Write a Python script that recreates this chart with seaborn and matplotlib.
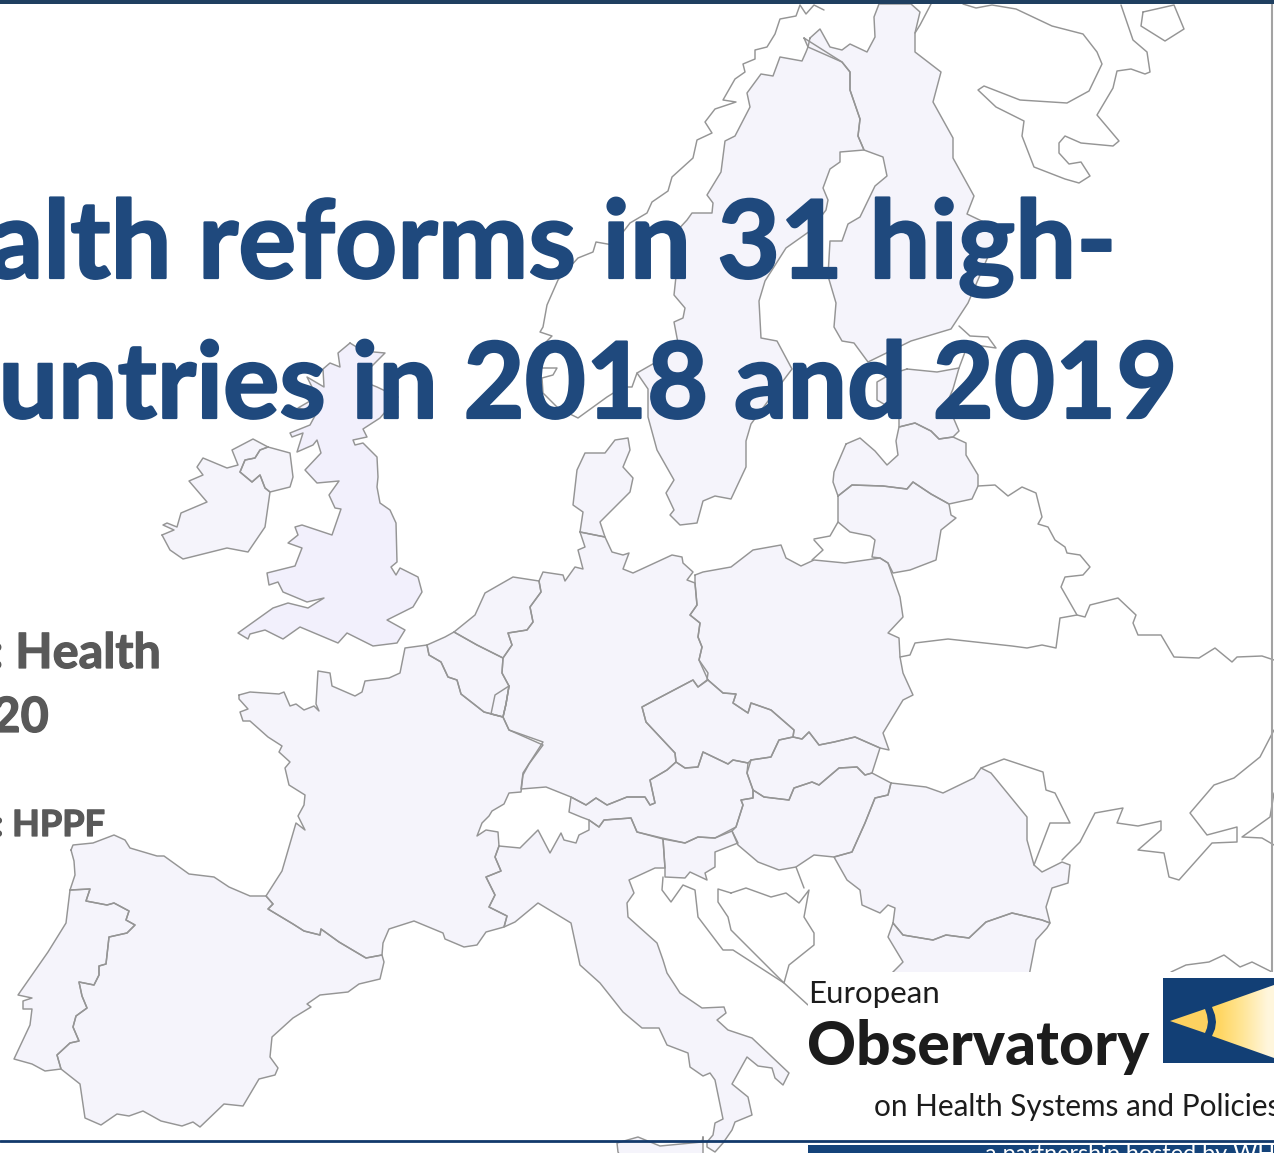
import numpy as np
import pandas as pd
import seaborn as sns
import matplotlib.pyplot as plt
import matplotlib.patheffects as pe
from matplotlib.patches import Polygon, Rectangle

# Outlines, in image pixels (x, y)
spain = [(71,850),(73,845),(93,843),(114,835),(125,840),(130,848),(157,856),(164,856),(189,874),(214,877),(229,887),(250,896),(266,896),(273,904),(268,909),(293,924),(304,931),(320,935),(321,929),(339,942),(366,958),(382,955),(384,962),(380,979),(359,984),(348,992),(320,995),(307,1004),(311,1007),(293,1018),(272,1037),(270,1057),(278,1068),(275,1075),(259,1079),(243,1106),(224,1104),(200,1127),(193,1122),(182,1126),(161,1121),(143,1111),(129,1116),(117,1114),(101,1125),(85,1118),(80,1084),(61,1069),(57,1055),(70,1043),(79,1041),(73,1027),(76,1016),(87,1008),(82,996),(79,982),(94,985),(99,975),(99,966),(106,964),(109,937),(127,933),(135,925),(126,920),(129,911),(114,903),(107,905),(86,901),(90,889),(70,890),(75,875),(74,861)]
portugal = [(70,890),(66,923),(48,952),(18,995),(32,998),(23,1001),(23,1009),(32,1009),(30,1025),(14,1059),(32,1064),(45,1071),(61,1069),(57,1055),(70,1043),(79,1041),(73,1027),(76,1016),(87,1008),(82,996),(79,982),(94,985),(99,975),(99,966),(106,964),(109,937),(127,933),(135,925),(126,920),(129,911),(114,903),(107,905),(86,901),(90,889)]
france = [(239,695),(250,692),(279,694),(284,692),(290,706),(296,704),(304,710),(314,706),(319,711),(316,704),(318,671),(330,673),(332,686),(355,696),(362,692),(365,681),(389,678),(400,673),(405,648),(427,645),(429,655),(441,662),(448,677),(457,680),(461,694),(484,712),(503,717),(509,730),(543,745),(529,764),(523,775),(521,792),(509,793),(504,804),(492,811),(489,816),(482,823),(477,836),(486,830),(498,832),(499,846),(495,857),(501,871),(486,877),(495,895),(489,907),(507,916),(504,927),(486,932),(477,945),(464,947),(445,939),(443,933),(414,921),(389,929),(383,943),(382,955),(366,958),(339,942),(321,929),(320,935),(304,931),(293,924),(268,909),(273,904),(266,896),(282,871),(296,823),(305,830),(298,816),(304,805),(305,795),(289,785),(285,768),(290,762),(279,752),(282,746),(268,737),(250,721),(243,721),(240,712),(248,709),(239,699)]
netherlands = [(454,632),(475,615),(485,593),(513,577),(539,581),(541,592),(530,607),(533,622),(527,630),(508,633),(512,645),(503,658),(477,645)]
belgium = [(427,645),(445,637),(454,632),(477,645),(503,658),(502,673),(509,686),(506,704),(503,717),(484,712),(461,694),(457,680),(448,677),(441,662),(429,655)]
luxembourg = [(509,686),(495,695),(491,714),(503,717),(506,704)]
germany = [(539,581),(543,572),(563,575),(565,581),(575,567),(583,569),(578,550),(585,547),(580,532),(605,537),(612,552),(623,555),(629,553),(623,569),(633,573),(672,555),(682,557),(683,563),(693,572),(687,580),(695,583),(697,605),(690,615),(700,623),(698,637),(702,647),(699,660),(708,673),(707,680),(698,687),(693,680),(655,700),(642,707),(646,722),(675,753),(676,762),(667,770),(650,780),(655,803),(650,805),(645,797),(627,797),(607,805),(596,798),(586,805),(571,797),(546,787),(521,789),(523,773),(543,742),(509,730),(503,717),(506,704),(509,686),(502,673),(503,658),(512,645),(508,633),(527,630),(533,622),(530,607),(541,592)]
denmark = [(580,532),(583,512),(573,505),(577,470),(585,453),(605,453),(615,440),(628,438),(630,450),(623,467),(633,478),(630,492),(600,522),(605,537)]
poland = [(695,575),(703,572),(731,567),(753,550),(781,545),(786,558),(801,566),(814,560),(845,563),(880,558),(888,563),(900,597),(903,617),(888,633),(899,638),(900,657),(903,673),(913,695),(903,700),(883,733),(889,750),(880,748),(855,737),(834,742),(819,745),(809,732),(802,739),(793,737),(794,730),(771,710),(751,703),(748,713),(733,703),(736,694),(723,693),(708,680),(699,660),(702,647),(698,637),(700,623),(690,615),(697,605),(695,583)]
czechia = [(708,680),(723,693),(736,694),(733,703),(748,713),(751,703),(771,710),(794,730),(793,737),(779,740),(771,757),(751,760),(748,763),(733,760),(728,764),(703,752),(698,767),(685,768),(676,762),(675,753),(646,722),(642,707),(655,700),(693,680),(698,687)]
slovakia = [(751,760),(771,757),(779,740),(793,737),(802,739),(809,732),(819,745),(834,742),(855,737),(880,748),(872,773),(865,775),(857,767),(839,768),(819,785),(812,782),(794,788),(789,800),(764,797),(753,790),(747,773)]
austria = [(753,790),(753,798),(741,800),(743,805),(736,827),(715,838),(698,837),(685,843),(662,838),(637,832),(631,818),(604,820),(599,827),(589,820),(581,817),(569,812),(571,797),(586,805),(596,798),(607,805),(627,797),(645,797),(650,805),(655,803),(650,780),(667,770),(676,762),(685,768),(698,767),(703,752),(728,764),(733,760),(748,763),(747,773)]
hungary = [(753,790),(753,798),(741,800),(743,805),(736,827),(732,831),(738,845),(758,862),(779,870),(796,867),(814,855),(834,857),(852,852),(865,823),(875,798),(888,795),(891,783),(872,773),(865,775),(857,767),(839,768),(819,785),(812,782),(794,788),(789,800),(764,797)]
slovenia = [(663,839),(685,843),(698,837),(715,838),(732,831),(738,843),(715,852),(715,867),(705,873),(707,880),(690,872),(685,878),(665,877),(665,868)]
italy = [(499,846),(520,848),(538,830),(550,853),(561,833),(564,840),(576,843),(579,835),(589,830),(589,820),(599,827),(604,820),(631,818),(637,832),(663,839),(665,868),(655,868),(629,880),(634,893),(627,903),(628,917),(657,943),(663,960),(667,973),(680,993),(702,1008),(724,1007),(726,1013),(717,1020),(728,1030),(752,1038),(789,1073),(783,1085),(775,1078),(772,1068),(758,1066),(747,1057),(732,1084),(748,1097),(752,1115),(735,1122),(732,1130),(723,1143),(715,1152),(707,1147),(707,1142),(713,1135),(715,1123),(723,1119),(715,1080),(710,1073),(703,1076),(690,1067),(688,1053),(667,1045),(659,1028),(642,1028),(623,1012),(600,983),(580,965),(571,923),(538,903),(515,922),(504,927),(507,916),(489,907),(495,895),(486,877),(501,871),(495,857)]
sicily = [(703,1137),(702,1142),(660,1146),(638,1137),(617,1143),(618,1152),(624,1162),(703,1162)]
romania = [(891,783),(926,787),(943,793),(974,778),(981,768),(991,773),(1027,817),(1027,840),(1034,865),(1042,872),(1062,862),(1070,865),(1068,883),(1052,888),(1046,907),(1050,923),(1042,920),(1012,913),(986,922),(969,938),(946,935),(933,940),(903,935),(893,923),(895,908),(888,905),(880,913),(862,905),(860,890),(847,880),(834,857),(852,852),(865,823),(875,798),(888,795)]
bulgaria = [(893,923),(903,935),(933,940),(946,935),(969,938),(986,922),(1012,913),(1042,920),(1050,923),(1047,928),(1036,940),(1029,976),(889,976),(903,962),(888,937)]
sweden = [(804,38),(808,47),(806,52),(802,61),(780,57),(773,76),(761,74),(747,93),(750,107),(735,136),(725,141),(721,172),(707,195),(713,203),(712,213),(692,213),(687,220),(675,233),(677,267),(674,295),(685,308),(683,318),(674,322),(678,343),(665,357),(637,373),(648,389),(648,417),(657,450),(674,480),(666,493),(674,510),(670,515),(680,525),(697,523),(703,501),(715,496),(731,499),(746,467),(746,441),(751,424),(777,389),(792,369),(777,341),(761,338),(759,301),(765,281),(786,248),(810,231),(826,210),(828,200),(823,188),(830,169),(840,162),(840,152),(864,150),(858,136),(860,119),(850,90),(850,72),(842,62)]
finland = [(810,38),(820,29),(830,47),(842,50),(850,44),(867,52),(875,37),(874,17),(879,4),(911,4),(920,12),(915,33),(915,52),(941,72),(933,102),(953,138),(953,158),(974,196),(967,214),(988,224),(996,238),(968,303),(951,329),(911,341),(868,362),(854,343),(842,341),(834,327),(836,303),(828,276),(830,241),(842,241),(848,224),(860,217),(875,186),(887,176),(883,157),(864,150),(858,136),(860,119),(850,90),(850,72),(842,62),(808,47)]
estonia = [(907,369),(937,372),(959,368),(953,389),(947,403),(959,431),(953,437),(939,439),(931,431),(915,423),(899,427),(899,413),(877,400),(877,382),(891,374)]
latvia = [(846,444),(860,438),(875,451),(887,465),(898,455),(896,441),(899,427),(915,423),(931,431),(939,439),(953,437),(966,443),(966,455),(978,475),(978,486),(972,499),(949,504),(931,494),(913,482),(907,489),(883,486),(852,485),(838,496),(833,482),(834,472)]
lithuania = [(838,496),(852,485),(883,486),(907,489),(913,482),(931,494),(949,504),(951,515),(956,518),(941,530),(936,560),(910,570),(893,573),(888,563),(880,558),(872,557),(875,540),(870,536),(850,532),(838,522)]
britain = [(350,343),(338,353),(340,367),(330,363),(323,369),(324,387),(307,377),(317,397),(298,408),(317,412),(310,425),(290,433),(292,437),(303,433),(297,452),(313,445),(317,440),(321,453),(305,470),(317,483),(339,481),(329,495),(335,508),(341,509),(332,535),(302,525),(295,527),(298,535),(288,543),(302,548),(295,566),(267,573),(269,585),(278,582),(283,592),(307,602),(324,598),(308,608),(288,603),(273,608),(238,633),(248,639),(250,634),(265,630),(283,639),(300,627),(338,643),(347,633),(373,646),(397,643),(405,630),(387,620),(413,607),(422,592),(418,577),(400,568),(396,575),(391,567),(397,562),(396,523),(390,510),(380,503),(377,487),(378,477),(377,457),(363,443),(355,445),(353,440),(367,437),(363,429),(380,418),(398,397),(377,387),(367,383),(370,368),(385,353),(363,351)]
ireland = [(162,535),(174,530),(163,525),(167,523),(177,527),(181,513),(207,502),(189,481),(203,475),(197,467),(203,458),(227,468),(238,465),(232,450),(253,439),(268,447),(260,450),(255,458),(245,460),(240,472),(252,482),(260,475),(265,488),(270,492),(265,527),(248,552),(227,548),(183,559),(170,550)]
n_ireland = [(268,447),(290,453),(293,477),(290,487),(270,492),(265,488),(260,475),(252,482),(240,472),(245,460),(255,458),(260,450)]

# Countries that stay white, only a line
norway_top = [(824,10),(814,5),(806,14),(800,5),(796,16),(780,19),(775,34),(767,47),(755,50),(755,59),(743,64),(745,72),(735,79),(723,100),(736,102),(715,109),(705,122),(712,133),(697,140),(693,158),(672,177),(668,191),(652,202),(647,213),(630,223),(613,245),(596,242),(593,252),(578,258),(558,280),(547,305),(543,327),(540,332),(552,336),(543,345),(542,368),(557,368),(553,375),(542,378),(543,393),(558,408),(578,418),(607,397),(623,387),(632,387),(637,373)]
kola = [(963,4),(976,8),(992,5),(1016,9),(1052,26),(1083,34),(1097,52),(1102,64),(1089,91),(1067,103),(1020,100),(984,86),(978,90),(996,107),(1024,121),(1022,136),(1034,167),(1065,179),(1079,183),(1090,176),(1081,162),(1069,164),(1059,153),(1059,143),(1065,136),(1081,143),(1113,146),(1119,141),(1097,115),(1113,88),(1117,71),(1131,69),(1145,74),(1150,72),(1147,52),(1133,40),(1121,5)]
kolguev = [(1143,12),(1174,5),(1184,29),(1165,41),(1141,26),(1143,12)]
white_sea = [(931,4),(920,25),(915,33)]
petersburg = [(959,326),(970,336),(988,337),(996,348),(968,344),(959,368)]
belarus_ne = [(978,486),(995,485),(1008,496),(1022,487),(1036,493),(1042,517),(1038,524),(1048,527),(1055,540),(1065,547),(1067,553),(1080,555),(1090,567),(1083,575),(1065,577),(1061,587),(1077,615)]
belarus_s = [(900,657),(910,655),(915,643),(948,639),(1012,646),(1027,648),(1042,645),(1056,648),(1060,618),(1077,615),(1085,617),(1090,605),(1118,598),(1136,615),(1133,623),(1138,635),(1161,635),(1174,657),(1199,658),(1215,648),(1232,662),(1237,657),(1262,656),(1274,660)]
kaliningrad = [(814,539),(830,536),(838,522)]
kaliningrad_b = [(814,540),(823,550),(812,560)]
ukraine_s = [(1274,730),(1260,757),(1234,778),(1214,785),(1190,813),(1207,835),(1237,827),(1237,842),(1212,843),(1179,880),(1169,877),(1164,853),(1138,850),(1161,830),(1161,821),(1138,826),(1117,823),(1123,808),(1095,813),(1080,842),(1062,860)]
moldova = [(981,768),(1004,759),(1043,772),(1046,790),(1055,793),(1070,823),(1050,823),(1034,865)]
caucasus = [(1274,793),(1270,817),(1242,837),(1262,838),(1274,845)]
turkey = [(1171,972),(1186,965),(1209,962),(1224,955),(1240,967),(1252,962),(1272,972)]
croatia = [(663,877),(662,890),(671,902),(683,885),(695,890),(698,917),(723,950),(733,950),(784,983),(808,1005)]
bosnia = [(731,893),(718,889),(718,902),(728,917),(731,930),(784,983),(789,965),(799,957),(814,945),(814,933),(804,917),(809,890),(799,903),(786,893),(771,897),(746,888),(731,893)]
serbia_w = [(796,867),(804,888)]

filled_countries = [spain, portugal, france, netherlands, belgium, luxembourg, germany, denmark, poland, czechia, slovakia, austria, hungary, slovenia, italy, sicily, romania, bulgaria, sweden, finland, estonia, latvia, lithuania, ireland, n_ireland]
open_lines = [norway_top, kola, kolguev, white_sea, petersburg, belarus_ne, belarus_s, kaliningrad, kaliningrad_b, ukraine_s, moldova, caucasus, turkey, croatia, bosnia, serbia_w]

title_lines = ["Health reforms in 31 high-", "countries in 2018 and 2019"]
speaker_lines = [": Health", "2020"]
panel_line = ": HPPF"
logo_lines = ["European", "Observatory", "on Health Systems and Policies"]
partnership = "a partnership hosted by WHO"

beam_gradient = [0.0, 0.25, 0.5, 0.75, 1.0]
beam_outline = [(1212,1007),(1215,1015),(1216,1022),(1215,1029),(1212,1036),(1274,1058),(1274,985)]
beam_tip = [(1170,1021),(1205,1009),(1207,1015),(1208,1022),(1207,1028),(1205,1033)]

LINE = "#959595"
FILL = "#f5f4fb"
UK_FILL = "#f2f0fc"
NAVY = "#1f497d"
LOGO_NAVY = "#123f75"
GREY = "#595959"

sns.set_theme(style="white")
plt.rcParams['font.family'] = ['Lato', 'DejaVu Sans']

fig = plt.figure(figsize=(12.74, 11.53), dpi=100)
ax = fig.add_axes([0, 0, 1, 1])


def outline(points, closed=False, z=2):
    df = pd.DataFrame(points, columns=["x", "y"])
    if closed:
        df = pd.concat([df, df.iloc[[0]]], ignore_index=True)
    sns.lineplot(data=df, x="x", y="y", sort=False, estimator=None, color=LINE,
                 linewidth=1.05, legend=False, ax=ax, zorder=z)


for country in filled_countries:
    ax.fill(*zip(*country), color=FILL, lw=0, zorder=1)
    outline(country, closed=True)
ax.fill(*zip(*britain), color=UK_FILL, lw=0, zorder=1)
outline(britain, closed=True)
for piece in open_lines:
    outline(piece)

# slide furniture
ax.add_patch(Rectangle((0, 0), 1274, 4, color="#1f3f60", lw=0, zorder=6))
ax.plot([1272, 1272], [4, 972], color="#a3a3a3", lw=1.5, zorder=3)
ax.add_patch(Rectangle((808, 972), 466, 168, color="white", lw=0, zorder=4))
ax.plot([0, 1274], [1141, 1141], color="#12396b", lw=2, zorder=6)
ax.add_patch(Rectangle((808, 1145), 466, 8, color="#14437a", lw=0, zorder=6))

# logo
ax.add_patch(Rectangle((1163, 978), 111, 85, color=LOGO_NAVY, lw=0, zorder=5))
beam = ax.imshow(np.array(beam_gradient).reshape(1, -1), extent=(1212, 1274, 1063, 978), aspect="auto",
                 cmap=plt.matplotlib.colors.LinearSegmentedColormap.from_list("beam", ["#ffd55f", "#ffe698", "#fff6dc"]),
                 zorder=5.5, interpolation="bilinear")
beam.set_clip_path(Polygon(beam_outline, transform=ax.transData))
ax.add_patch(Polygon(beam_tip, color="#fdd160", lw=0, zorder=5.5))

ax.text(808, 1003, logo_lines[0], fontsize=22.5, color="#1c1c1c", zorder=7)
ax.text(807, 1065, logo_lines[1], fontsize=43.7, weight=900, color="#1c1c1c", zorder=7)
ax.text(874, 1116, logo_lines[2], fontsize=21.4, color="#1c1c1c", zorder=7)
ax.text(985, 1161, partnership, fontsize=16.8, color="white", zorder=7)

# slide text, the left part runs off the crop
heavy = [pe.withStroke(linewidth=1.6, foreground=NAVY)]
heavy_grey = [pe.withStroke(linewidth=0.9, foreground=GREY)]
ax.text(1118, 278, title_lines[0], fontsize=78, weight="bold", color=NAVY, ha="right", zorder=8, path_effects=heavy)
ax.text(1176, 418, title_lines[1], fontsize=76, weight="bold", color=NAVY, ha="right", zorder=8, path_effects=heavy)
ax.text(161, 668, speaker_lines[0], fontsize=35, weight="bold", color=GREY, ha="right", zorder=8, path_effects=heavy_grey)
ax.text(49, 732, speaker_lines[1], fontsize=35, weight="bold", color=GREY, ha="right", zorder=8, path_effects=heavy_grey)
ax.text(105, 836, panel_line, fontsize=26, weight="bold", color=GREY, ha="right", zorder=8, path_effects=heavy_grey)

ax.set_xlim(0, 1274)
ax.set_ylim(1153, 0)
ax.axis("off")
fig.savefig("out.png", dpi=100)
